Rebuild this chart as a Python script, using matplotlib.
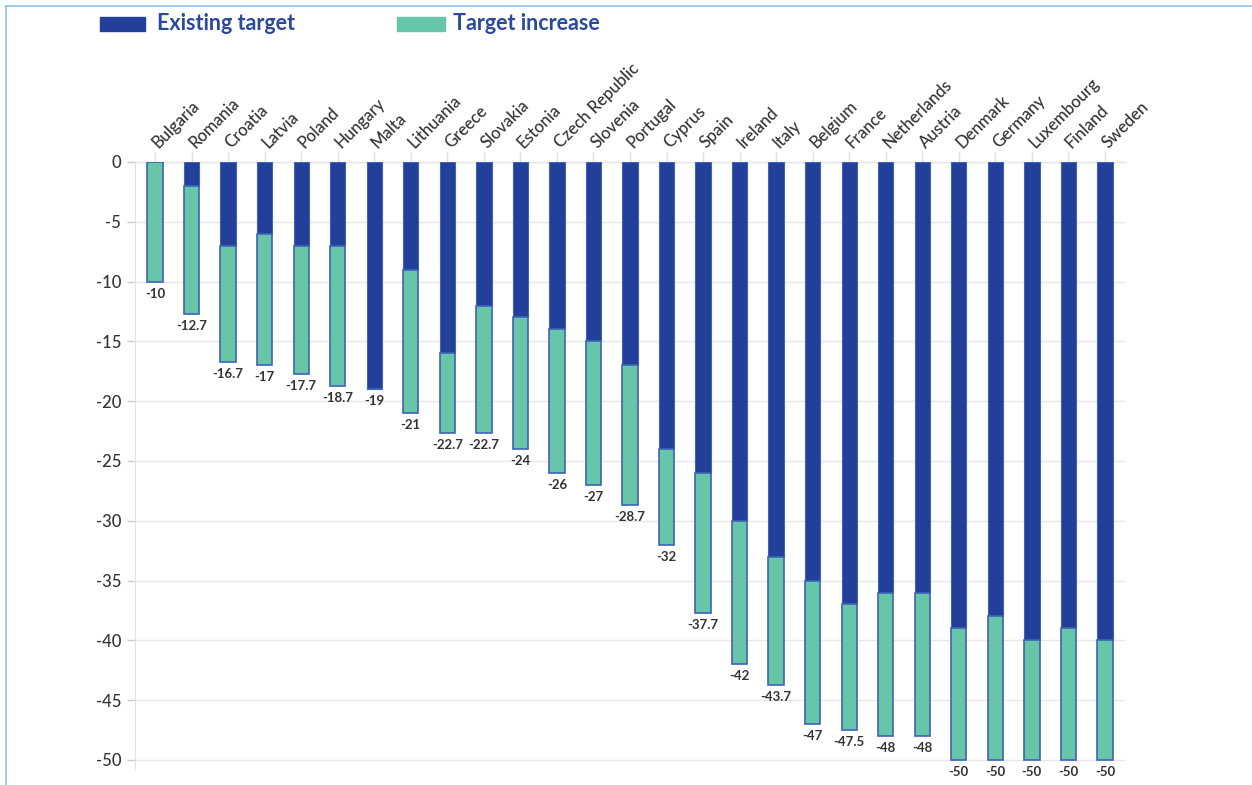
import numpy as np
import matplotlib.pyplot as plt
from matplotlib.patches import Rectangle
from matplotlib.lines import Line2D

countries = ["Bulgaria", "Romania", "Croatia", "Latvia", "Poland", "Hungary", "Malta",
             "Lithuania", "Greece", "Slovakia", "Estonia", "Czech Republic", "Slovenia",
             "Portugal", "Cyprus", "Spain", "Ireland", "Italy", "Belgium", "France",
             "Netherlands", "Austria", "Denmark", "Germany", "Luxembourg", "Finland", "Sweden"]
existing = [0, -2, -7, -6, -7, -7, -19, -9, -16, -12, -13, -14, -15, -17, -24, -26, -30,
            -33, -35, -37, -36, -36, -39, -38, -40, -39, -40]
total = [-10, -12.7, -16.7, -17, -17.7, -18.7, -19, -21, -22.7, -22.7, -24, -26, -27, -28.7,
         -32, -37.7, -42, -43.7, -47, -47.5, -48, -48, -50, -50, -50, -50, -50]
total_labels = ["-10", "-12.7", "-16.7", "-17", "-17.7", "-18.7", "-19", "-21", "-22.7",
                "-22.7", "-24", "-26", "-27", "-28.7", "-32", "-37.7", "-42", "-43.7", "-47",
                "-47.5", "-48", "-48", "-50", "-50", "-50", "-50", "-50"]
yticks = [0, -5, -10, -15, -20, -25, -30, -35, -40, -45, -50]

DARK = "#22409a"
GREEN = "#67c5a8"
EDGE = "#3e63b8"
plt.rcParams['font.family'] = ['Lato', 'DejaVu Sans']


def main():
    fig = plt.figure(figsize=(12.52, 7.85), dpi=100)
    ax = fig.add_axes([135 / 1252, 1 - 770 / 785, 990 / 1252, 608 / 785])

    x = np.arange(len(countries))
    ex = np.array(existing, dtype=float)
    tot = np.array(total, dtype=float)
    w = 0.42
    ax.bar(x, ex, width=w, color=DARK, edgecolor=EDGE, linewidth=0.8, zorder=3)
    ax.bar(x, tot - ex, bottom=ex, width=w, color=GREEN, edgecolor=EDGE, linewidth=1.2, zorder=3)

    for xi, t, lab in zip(x, tot, total_labels):
        ax.text(xi, t - 0.5, lab, ha='center', va='top', fontsize=9.5, fontweight='bold',
                color='#333333', zorder=4)

    ax.set_xlim(-0.55, len(countries) - 0.45)
    ax.set_ylim(-50.84, 0)
    ax.set_yticks(yticks)
    ax.set_yticklabels([str(v) for v in yticks], fontsize=12, fontweight='medium', color='#333333')
    ax.tick_params(axis='y', length=6, color='#cccccc', width=1, pad=4)
    ax.grid(axis='y', color='#e8e8e8', linewidth=1, zorder=0)

    ax.xaxis.tick_top()
    ax.set_xticks(x)
    ax.set_xticklabels(countries, rotation=45, ha='left', va='center', rotation_mode='anchor',
                       fontsize=12, fontweight='medium', color='#333333')
    ax.tick_params(axis='x', length=7, color='#dddddd', width=1, pad=5)

    for s in ['top', 'right', 'bottom']:
        ax.spines[s].set_visible(False)
    ax.spines['left'].set_color('#e2e2e2')
    ax.plot([-0.55, len(countries) - 0.45], [0, 0], color='#e0e0e0', lw=1, zorder=1, clip_on=False)

    # legend
    fig.add_artist(Rectangle((100 / 1252, 1 - 31 / 785), 45 / 1252, 14 / 785,
                             transform=fig.transFigure, color=DARK))
    fig.text(157 / 1252, 1 - 24 / 785, "Existing target", fontsize=15.5, fontweight='bold',
             color='#2b4a9c', va='center', ha='left')
    fig.add_artist(Rectangle((397 / 1252, 1 - 31 / 785), 48 / 1252, 14 / 785,
                             transform=fig.transFigure, color=GREEN))
    fig.text(453 / 1252, 1 - 24 / 785, "Target increase", fontsize=15.5, fontweight='bold',
             color='#2b4a9c', va='center', ha='left')

    # frame lines
    fig.add_artist(Line2D([6 / 1252, 1], [1 - 6 / 785, 1 - 6 / 785], transform=fig.transFigure,
                          color='#8ec4f0', lw=1.2))
    fig.add_artist(Line2D([6 / 1252, 6 / 1252], [0, 1 - 6 / 785], transform=fig.transFigure,
                          color='#8ec4f0', lw=1.2))

    fig.savefig("out.png", dpi=100)


if __name__ == "__main__":
    main()
